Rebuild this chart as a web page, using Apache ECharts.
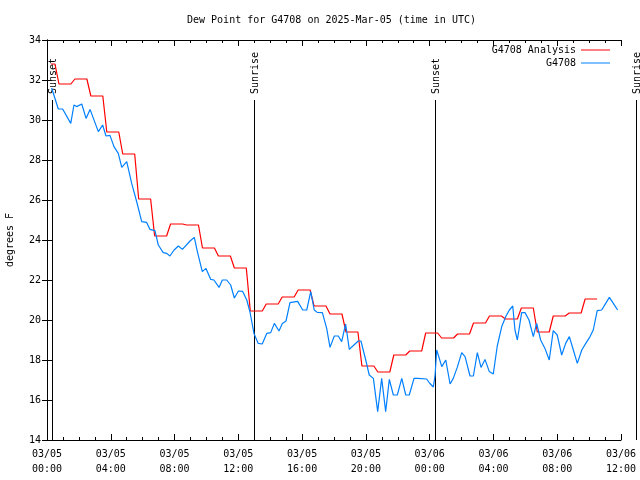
<!DOCTYPE html>
<html>
<head>
<meta charset="utf-8">
<script src="https://cdn.jsdelivr.net/npm/echarts@6/dist/echarts.min.js"></script>
<style>html,body{margin:0;padding:0;background:#fff}#c{width:640px;height:480px}</style>
</head>
<body>
<div id="c"></div>
<script>
// ---- data ----
const titleText = 'Dew Point for G4708 on 2025-Mar-05 (time in UTC)';
const yAxisName = 'degrees F';
const xTickLabels = ['03/05\n00:00','03/05\n04:00','03/05\n08:00','03/05\n12:00','03/05\n16:00','03/05\n20:00','03/06\n00:00','03/06\n04:00','03/06\n08:00','03/06\n12:00'];
// hours since 2025-03-05 00:00 UTC
const sunEventHours = [0.31, 13.0, 24.36, 36.94];
const sunEventLabels = ['Sunset', 'Sunrise', 'Sunset', 'Sunrise'];

const analysisName = 'G4708 Analysis';
const analysisHours = [0,1,2,3,4,5,6,7,8,9,10,11,12,13,14,15,16,17,18,19,20,21,22,23,24,25,26,27,28,29,30,31,32,33,34];
const analysisValues = [32.8,31.8,32.05,31.2,29.4,28.3,26.05,24.2,24.8,24.75,23.6,23.2,22.6,20.45,20.8,21.15,21.5,20.7,20.3,19.4,17.7,17.4,18.25,18.45,19.35,19.1,19.3,19.85,20.2,20.05,20.6,19.4,20.2,20.35,21.05];

const obsName = 'G4708';
const obsHours = [0.29,0.71,0.98,1.49,1.69,1.86,2.18,2.45,2.70,3.22,3.49,3.70,3.95,4.20,4.47,4.69,5.00,5.31,5.63,5.94,6.25,6.46,6.77,6.98,7.29,7.51,7.71,7.97,8.24,8.49,8.97,9.24,9.43,9.74,9.97,10.27,10.47,10.79,11.00,11.27,11.52,11.75,12.01,12.27,12.53,12.73,12.98,13.25,13.50,13.78,14.03,14.26,14.55,14.76,14.99,15.24,15.72,16.04,16.29,16.54,16.76,16.95,17.27,17.54,17.75,18.02,18.27,18.48,18.73,18.96,19.25,19.52,19.69,19.99,20.21,20.47,20.74,20.99,21.24,21.47,21.72,21.97,22.25,22.50,22.72,23.02,23.27,23.81,23.99,24.23,24.34,24.44,24.54,24.76,25.01,25.28,25.48,25.73,26.01,26.22,26.53,26.74,26.99,27.22,27.47,27.74,27.99,28.24,28.52,28.79,29.00,29.21,29.35,29.50,29.77,29.98,30.23,30.50,30.71,30.96,31.23,31.50,31.75,32.00,32.28,32.53,32.76,33.01,33.26,33.54,33.79,34.06,34.26,34.51,34.79,35.04,35.27,35.52,35.79];
const obsValues = [31.6,30.55,30.55,29.83,30.75,30.67,30.8,30.08,30.53,29.42,29.75,29.2,29.23,28.67,28.33,27.63,27.92,26.83,25.9,24.92,24.88,24.53,24.47,23.75,23.37,23.33,23.2,23.5,23.7,23.53,23.95,24.13,23.42,22.42,22.58,22.03,22.0,21.63,22.0,22.0,21.75,21.1,21.45,21.43,21.0,20.4,19.33,18.83,18.8,19.33,19.37,19.83,19.45,19.83,19.95,20.87,20.93,20.5,20.5,21.42,20.5,20.38,20.37,19.58,18.63,19.2,19.2,18.92,19.8,18.53,18.75,18.95,18.95,18.0,17.25,17.08,15.42,17.08,15.42,17.03,16.25,16.25,17.08,16.25,16.25,17.08,17.08,17.05,16.85,16.65,17.25,18.5,18.25,17.67,18.0,16.8,17.08,17.63,18.37,18.17,17.2,17.2,18.37,17.63,18.03,17.42,17.3,18.7,19.67,20.2,20.5,20.7,19.5,19.0,20.37,20.37,20.0,19.17,19.83,19.0,18.58,18.0,19.47,19.25,18.25,18.83,19.17,18.5,17.83,18.5,18.83,19.17,19.5,20.47,20.5,20.83,21.13,20.83,20.5];

// ---- build ----
const FONT = 'DejaVu Sans Mono';
const analysisData = [];
analysisHours.forEach((h, i) => {
  analysisData.push([Math.max(h - 0.25, 0.25), analysisValues[i]]);
  analysisData.push([h + 0.5, analysisValues[i]]);
});
const obsData = obsHours.map((h, i) => [h, obsValues[i]]);
const sunData = sunEventHours.map(h => [h]);

const chart = echarts.init(document.getElementById('c'), null, {renderer: 'canvas'});
const axisCommon = {
  type: 'value',
  axisLine: {show: true, lineStyle: {color: '#000', width: 1}},
  splitLine: {show: false},
};
chart.setOption({
  animation: false,
  backgroundColor: '#fff',
  title: {text: titleText, left: 187, top: 15, padding: 0,
    textStyle: {fontFamily: FONT, fontSize: 10, fontWeight: 'normal', color: '#000'}},
  legend: [
    {data: [analysisName], right: 30, top: 45, align: 'right', icon: 'rect', itemWidth: 29, itemHeight: 1, padding: 0, itemGap: 0,
     textStyle: {fontFamily: FONT, fontSize: 10, color: '#000'}},
    {data: [obsName], right: 30, top: 58, align: 'right', icon: 'rect', itemWidth: 29, itemHeight: 1, padding: 0, itemGap: 0,
     textStyle: {fontFamily: FONT, fontSize: 10, color: '#000'}}
  ],
  grid: {left: 47, right: 19, top: 40, bottom: 40, containLabel: false, outerBoundsMode: 'none'},
  xAxis: [
    Object.assign({}, axisCommon, {min: 0, max: 36, interval: 4, position: 'bottom',
      axisTick: {show: true, inside: true, length: 6, lineStyle: {color: '#000'}},
      minorTick: {show: true, splitNumber: 4, length: 3, lineStyle: {color: '#000'}},
      axisLabel: {margin: 7, fontFamily: FONT, fontSize: 10, color: '#000', lineHeight: 15,
        formatter: v => xTickLabels[Math.round(v / 4)]}}),
    Object.assign({}, axisCommon, {min: 0, max: 36, interval: 4, position: 'top',
      axisTick: {show: true, inside: true, length: 6, lineStyle: {color: '#000'}},
      minorTick: {show: true, splitNumber: 4, length: 3, lineStyle: {color: '#000'}},
      axisLabel: {show: false}})
  ],
  yAxis: [
    Object.assign({}, axisCommon, {min: 14, max: 34, interval: 2, position: 'left',
      name: yAxisName, nameLocation: 'middle', nameGap: 32,
      nameTextStyle: {fontFamily: FONT, fontSize: 10, color: '#000'},
      axisTick: {show: true, inside: true, length: 5, lineStyle: {color: '#000'}},
      axisLabel: {margin: 6, fontFamily: FONT, fontSize: 10, color: '#000'}}),
    Object.assign({}, axisCommon, {min: 14, max: 34, interval: 2, position: 'right',
      axisTick: {show: true, inside: true, length: 5, lineStyle: {color: '#000'}},
      axisLabel: {show: false}})
  ],
  series: [
    {
      type: 'custom', name: 'sun', z: 1, clip: false, silent: true,
      data: sunData,
      renderItem: function (params, api) {
        const h = api.value(0);
        const p0 = api.coord([h, 14]);
        const p1 = api.coord([h, 31]);
        const x = Math.round(p0[0]) + 0.5;
        return {
          type: 'group',
          children: [
            {type: 'line', shape: {x1: x, y1: p0[1], x2: x, y2: p1[1]}, style: {stroke: '#000', lineWidth: 1}},
            {type: 'text', x: x + 1, y: p1[1] - 6, rotation: Math.PI / 2,
             style: {text: sunEventLabels[params.dataIndex], fill: '#000', font: '10px ' + FONT, align: 'left', verticalAlign: 'middle'}}
          ]
        };
      }
    },
    {
      type: 'line', name: analysisName, z: 3, data: analysisData, showSymbol: false, symbol: 'none',
      lineStyle: {color: '#ff0000', width: 1.2}, itemStyle: {color: '#ff0000'}
    },
    {
      type: 'line', name: obsName, z: 4, data: obsData, showSymbol: false, symbol: 'none',
      lineStyle: {color: '#0080ff', width: 1.2}, itemStyle: {color: '#0080ff'}
    }
  ]
});
</script>
</body>
</html>
